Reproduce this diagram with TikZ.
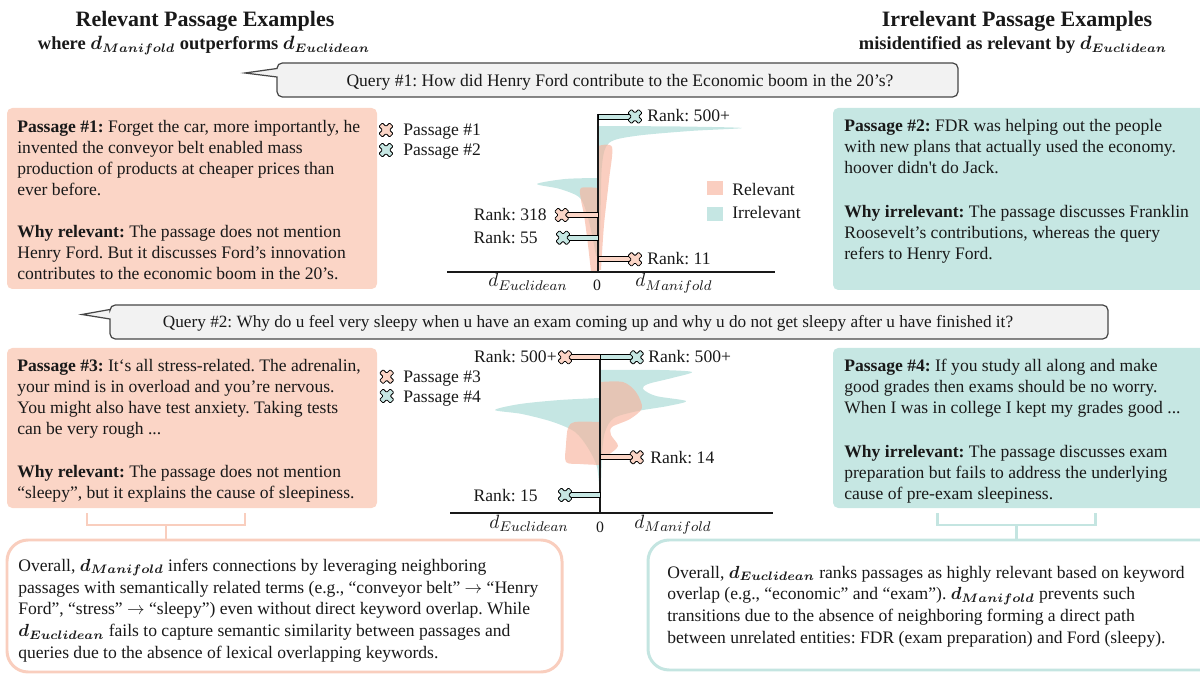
\documentclass[tikz,border=0pt]{standalone}
\usepackage{fontspec}
\setmainfont{Liberation Serif}
\usepackage{bm}
\usepackage{tikz}
\usetikzlibrary{positioning, fit, calc}
\definecolor{relpeach}{RGB}{251,213,198}
\definecolor{relline}{RGB}{249,206,190}
\definecolor{relviol}{RGB}{247,180,158}
\definecolor{irrteal}{RGB}{198,231,227}
\definecolor{irrline}{RGB}{196,229,225}
\definecolor{irrviol}{RGB}{140,206,200}
\definecolor{qgray}{RGB}{242,242,242}
\definecolor{qedge}{RGB}{70,70,70}
\definecolor{inkgray}{RGB}{25,25,25}
\frenchspacing

\begin{document}
\begin{tikzpicture}[x=0.02cm, y=-0.02cm,
    txt/.style={inner sep=0pt, anchor=north west, align=left, font=\fontsize{10}{12}\selectfont, text=inkgray},
    sumtxt/.style={txt, font=\fontsize{10}{12.4}\selectfont},
    head/.style={inner sep=0pt, anchor=base, text=inkgray},
    relbox/.style={fill=relpeach, rounded corners=3pt, inner sep=0pt},
    irrbox/.style={fill=irrteal, rounded corners=3pt, inner sep=0pt},
    qbox/.style={fill=qgray, draw=qedge, line width=0.7pt},
    sumbox/.style={fill=white, line width=1.7pt, rounded corners=12pt, inner sep=0pt},
    brace/.style={line width=1.7pt},
    bar/.style={draw=black, line width=0.45pt},
    axis/.style={draw=inkgray, line width=0.7pt},
    lbl/.style={inner sep=0pt, font=\fontsize{10}{12}\selectfont, text=inkgray},
    mlbl/.style={inner sep=0pt, anchor=base, font=\fontsize{11}{12}\selectfont, text=inkgray},
    violR/.style={fill=relviol, fill opacity=0.65},
    violI/.style={fill=irrviol, fill opacity=0.5},
    pics/xmark/.style={code={
      \draw[fill=#1, draw=black, line width=0.45pt, rotate=45, rounded corners=0.5pt]
        (-2.5,-7.5) -- (2.5,-7.5) -- (2.5,-2.5) -- (7.5,-2.5) -- (7.5,2.5) -- (2.5,2.5)
        -- (2.5,7.5) -- (-2.5,7.5) -- (-2.5,2.5) -- (-7.5,2.5) -- (-7.5,-2.5) -- (-2.5,-2.5) -- cycle;}}
  ]
  \useasboundingbox (0,0) rectangle (1200,675);
  \clip (0,0) rectangle (1200,675);

  % headers
  \node[head, font=\bfseries\fontsize{12.5}{14}\selectfont] (hrel) at (205,26.7) {Relevant Passage Examples};
  \node[head, font=\bfseries\fontsize{10.5}{12}\selectfont] (hrel2) at (204,50) {where $\bm{d}_{\bm{Manifold}}$ outperforms $\bm{d}_{\bm{Euclidean}}$};
  \node[head, font=\bfseries\fontsize{12.5}{14}\selectfont] (hirr) at (1017,26.7) {Irrelevant Passage Examples};
  \node[head, font=\bfseries\fontsize{10.5}{12}\selectfont] (hirr2) at (1013,50) {misidentified as relevant by $\bm{d}_{\bm{Euclidean}}$};

  % queries
  \draw[qbox] (245,73) -- (277,68.5) [rounded corners=3pt] -- (277,63) -- (958,63) -- (958,97) -- (277,97) [sharp corners] -- (277,77) -- cycle;
  \node[head, font=\fontsize{10}{12}\selectfont] (q1) at (620,86.5) {Query \#1: How did Henry Ford contribute to the Economic boom in the 20’s?};
  \draw[qbox] (82,314.5) -- (110,309.5) [rounded corners=3pt] -- (110,305) -- (1108,305) -- (1108,339) -- (110,339) [sharp corners] -- (110,319) -- cycle;
  \node[head, font=\fontsize{9.8}{12}\selectfont] (q2) at (588,327.5) {Query \#2: Why do u feel very sleepy when u have an exam coming up and why u do not get sleepy after u have finished it?};

  % passage boxes
  \node[relbox, fit={(7,108) (377,289)}] (p1) {};
  \node[irrbox, fit={(833,108) (1210,290)}] (p2) {};
  \node[relbox, fit={(7,348) (377,508)}] (p3) {};
  \node[irrbox, fit={(833,348) (1210,508)}] (p4) {};

  \node[txt] (p1t) at (17,119.5) {\textbf{Passage \#1:} Forget the car, more importantly, he\\invented the conveyor belt enabled mass\\production of products at cheaper prices than\\ever before.};
  \node[txt] (p1w) at (17,225) {\textbf{Why relevant:} The passage does not mention\\Henry Ford. But it discusses Ford’s innovation\\contributes to the economic boom in the 20’s.};
  \node[txt] (p2t) at (844,118.5) {\textbf{Passage \#2:} FDR was helping out the people\\with new plans that actually used the economy.\\hoover didn\textquotesingle t do Jack.};
  \node[txt] (p2w) at (844,204.5) {\textbf{Why irrelevant:} The passage discusses Franklin\\Roosevelt’s contributions, whereas the query\\refers to Henry Ford.};
  \node[txt] (p3t) at (17,358.5) {\textbf{Passage \#3:} It‘s all stress-related. The adrenalin,\\your mind is in overload and you’re nervous.\\You might also have test anxiety. Taking tests\\can be very rough ...};
  \node[txt] (p3w) at (17,465) {\textbf{Why relevant:} The passage does not mention\\“sleepy”, but it explains the cause of sleepiness.};
  \node[txt] (p4t) at (844,358.5) {\textbf{Passage \#4:} If you study all along and make\\good grades then exams should be no worry.\\When I was in college I kept my grades good ...};
  \node[txt] (p4w) at (844,444.5) {\textbf{Why irrelevant:} The passage discusses exam\\preparation but fails to address the underlying\\cause of pre-exam sleepiness.};

  % summary boxes
  \node[sumbox, draw=relline, fit={(7,540) (562,672)}] (sum1) {};
  \node[sumbox, draw=irrline, fit={(648,540) (1230,670)}] (sum2) {};
  \node[sumtxt] (s1t) at (18,558.5) {Overall, $\bm{d}_{\bm{Manifold}}$ infers connections by leveraging neighboring\\passages with semantically related terms (e.g., “conveyor belt” $\rightarrow$ “Henry\\Ford”, “stress” $\rightarrow$ “sleepy”) even without direct keyword overlap. While\\$\bm{d}_{\bm{Euclidean}}$ fails to capture semantic similarity between passages and\\queries due to the absence of lexical overlapping keywords.};
  \node[sumtxt] (s2t) at (667,565.5) {Overall, $\bm{d}_{\bm{Euclidean}}$ ranks passages as highly relevant based on keyword\\overlap (e.g., “economic” and “exam”). $\bm{d}_{\bm{Manifold}}$ prevents such\\transitions due to the absence of neighboring forming a direct path\\between unrelated entities: FDR (exam preparation) and Ford (sleepy).};

  % brackets
  \coordinate (b1) at (166,525);
  \coordinate (b2) at (1016,525);
  \draw[brace, draw=relline] (87,513) |- (245,525) -- (245,513);
  \draw[brace, draw=relline] (b1) -- (b1 |- sum1.north);
  \draw[brace, draw=irrline] (937,513) |- (1095,525) -- (1095,513);
  \draw[brace, draw=irrline] (b2) -- (b2 |- sum2.north);

  % plot 1
  \fill[violI] plot[smooth, tension=0.5] coordinates {(598,126) (680,126.5) (742,128) (690,131) (635,136) (609,143) (602,165) (600.5,220) (599.5,262)} -- (598,262) -- cycle;
  \fill[violR] plot[smooth, tension=0.5] coordinates {(598,146) (612,147) (609,180) (604,225) (601,270)} -- (598,270) -- cycle;
  \fill[violI] plot[smooth, tension=0.5] coordinates {(598,178) (565,179) (537,184) (560,189) (580,198) (588,218) (593,240) (596,256)} -- (598,256) -- cycle;
  \fill[violR] plot[smooth, tension=0.5] coordinates {(598,188) (581,188) (581,200) (584,215) (588,245) (591,272)} -- (598,272) -- cycle;
  \draw[axis] (598,114) -- (598,272);
  \draw[axis] (447,272) -- (775,272);
  \node[mlbl] (e1) at (528,287) {$d_{Euclidean}$};
  \node[mlbl, font=\fontsize{9}{10}\selectfont] (z1) at (597,291) {0};
  \node[mlbl] (m1) at (674,287) {$d_{Manifold}$};

  \draw[bar, fill=irrteal] (598,114) rectangle (635,119);
  \draw[bar, fill=relpeach] (561.7,212.5) rectangle (598,217.5);
  \draw[bar, fill=irrteal] (563,235.2) rectangle (598,240.2);
  \draw[bar, fill=relpeach] (598,256.8) rectangle (635,261.8);
  \pic at (635,116.5) {xmark=irrteal};
  \pic at (561.7,215) {xmark=relpeach};
  \pic at (563,237.7) {xmark=irrteal};
  \pic at (635,259.3) {xmark=relpeach};
  \node[lbl, anchor=base west] (r1a) at (647,121.5) {Rank: 500+};
  \node[lbl, anchor=base east] (r1b) at (547,221) {Rank: 318};
  \node[lbl, anchor=base east] (r1c) at (538,243.5) {Rank: 55};
  \node[lbl, anchor=base west] (r1d) at (647,265) {Rank: 11};

  \pic at (386,130) {xmark=relpeach};
  \pic at (386,150) {xmark=irrteal};
  \node[lbl, anchor=base west] (l1) at (403,136) {Passage \#1};
  \node[lbl, anchor=base west] (l2) at (403,156) {Passage \#2};
  \fill[violR] (707,181) rectangle (723,195);
  \fill[violI] (707,207) rectangle (723,221);
  \node[lbl, anchor=base west] (lr) at (732,195.5) {Relevant};
  \node[lbl, anchor=base west] (li) at (732,218.5) {Irrelevant};

  % plot 2
  \fill[violI] plot[smooth, tension=0.5] coordinates {(600,370) (660,370) (692,372) (672,378) (648,384) (643,389) (656,396) (686,401) (668,406) (638,411) (614,418) (605,432) (602,455) (601,490)} -- (600,490) -- cycle;
  \fill[violR] plot[smooth, tension=0.5] coordinates {(600,382) (623,382) (636,392) (642,408) (630,419) (612,427) (611,435) (618,446) (608,455) (600,458)} -- cycle;
  \fill[violI] plot[smooth, tension=0.5] coordinates {(600,398) (560,400) (520,404) (495,410) (522,414) (553,422) (575,432) (588,448) (597,467) (599.5,493)} -- (600,493) -- cycle;
  \fill[violR] plot[smooth, tension=0.5] coordinates {(600,422) (575,422) (568,428) (566,445) (566,462) (580,464) (600,465)} -- cycle;
  \draw[axis] (600,357) -- (600,513);
  \draw[axis] (450,513) -- (773,513);
  \node[mlbl] (e2) at (529,528.3) {$d_{Euclidean}$};
  \node[mlbl, font=\fontsize{9}{10}\selectfont] (z2) at (600,532.7) {0};
  \node[mlbl] (m2) at (673,528.3) {$d_{Manifold}$};

  \draw[bar, fill=relpeach] (565,354.8) rectangle (600,359.8);
  \draw[bar, fill=irrteal] (600,354.8) rectangle (636.7,359.8);
  \draw[bar, fill=relpeach] (600,454.8) rectangle (636.7,459.8);
  \draw[bar, fill=irrteal] (565,492.5) rectangle (600,497.5);
  \pic at (565,357.3) {xmark=relpeach};
  \pic at (636.7,357.3) {xmark=irrteal};
  \pic at (636.7,457.3) {xmark=relpeach};
  \pic at (565,495) {xmark=irrteal};
  \node[lbl, anchor=base east] (r2a) at (557,363) {Rank: 500+};
  \node[lbl, anchor=base west] (r2b) at (648,363) {Rank: 500+};
  \node[lbl, anchor=base west] (r2c) at (650,463.5) {Rank: 14};
  \node[lbl, anchor=base east] (r2d) at (538,501.5) {Rank: 15};

  \pic at (386.7,376.7) {xmark=relpeach};
  \pic at (386.7,396) {xmark=irrteal};
  \node[lbl, anchor=base west] (l3) at (403,382.5) {Passage \#3};
  \node[lbl, anchor=base west] (l4) at (403,402) {Passage \#4};
\end{tikzpicture}
\end{document}
